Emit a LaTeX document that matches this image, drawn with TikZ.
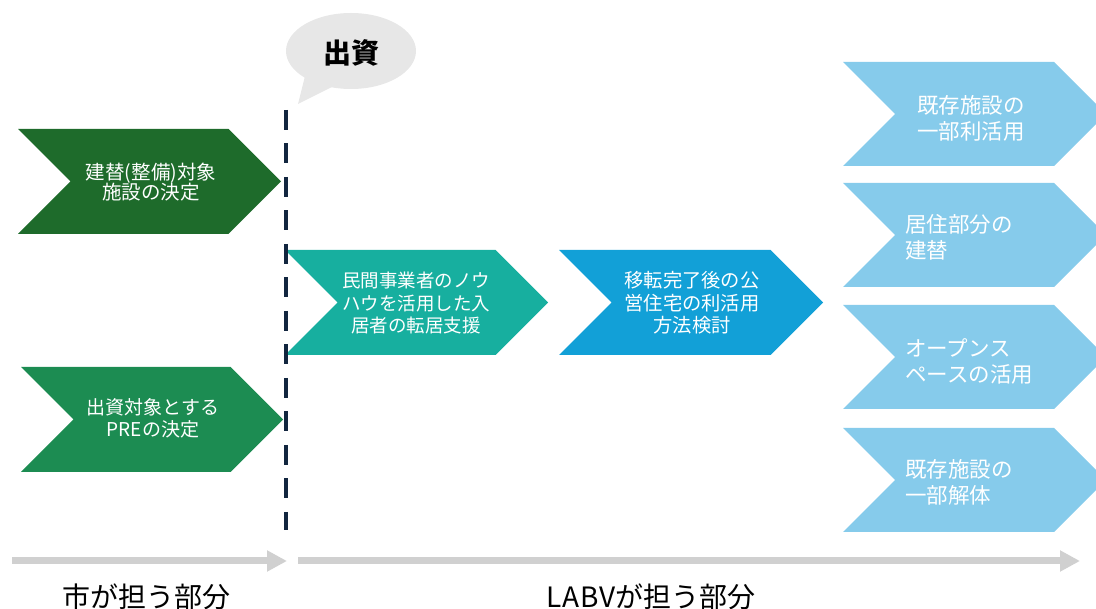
\documentclass[tikz,border=0pt]{standalone}
\usepackage{fontspec}
\setmainfont{Noto Sans CJK JP}
\usetikzlibrary{arrows.meta}
\definecolor{cdarkgreen}{HTML}{1E6B2B}
\definecolor{cgreen}{HTML}{1C8C52}
\definecolor{cteal}{HTML}{17AF9F}
\definecolor{cblue}{HTML}{12A0D7}
\definecolor{clightblue}{HTML}{86CBEB}
\definecolor{cbubble}{HTML}{E7E7E7}
\definecolor{cnavy}{HTML}{12263F}
\definecolor{carrow}{HTML}{D0D0D0}
\newcommand\mychev[5]{%
  \fill[#1] (#2,#3) -- ++({#4-#5/2},0) -- ++({#5/2},{#5/2}) -- ++({-#5/2},{#5/2})
    -- ++({-(#4-#5/2)},0) -- ++({#5/2},{-#5/2}) -- cycle;}
\tikzset{
  chevtext/.style={text=white, align=center, inner sep=0pt, font=\fontsize{18.5}{22.5}\selectfont},
  sidetext/.style={text=white, align=left, anchor=west, inner sep=0pt, font=\fontsize{21.5}{26}\selectfont},
  grayarrow/.style={draw=carrow, line width=7pt, -{Triangle[length=20pt,width=20pt]}},
  divider/.style={draw=cnavy, line width=3.5pt, dash pattern=on 20pt off 13.5pt},
  bottomlabel/.style={text=black, inner sep=0pt, font=\fontsize{28}{32}\selectfont}
}
\begin{document}
\begin{tikzpicture}[x=1pt,y=-1pt]
\useasboundingbox (0,0) rectangle (1096,609);
\clip (0,0) rectangle (1096,609);
% chevrons
\mychev{cdarkgreen}{18}{129}{263}{105}
\mychev{cgreen}{21}{367}{262}{105}
\mychev{cteal}{285}{250}{263}{105}
\mychev{cblue}{559}{250}{264}{105}
\mychev{clightblue}{843}{62}{263}{104}
\mychev{clightblue}{843}{183}{263}{104}
\mychev{clightblue}{843}{305}{263}{104}
\mychev{clightblue}{843}{428}{263}{104}
% texts
\node[chevtext, font=\fontsize{19.5}{20.5}\selectfont] (t1) at (151,182) {建替(整備)対象\\施設の決定};
\node[chevtext, font=\fontsize{19}{22}\selectfont] (t2) at (153,418) {出資対象とする\\PREの決定};
\node[chevtext] (t3) at (416,303) {民間事業者のノウ\\ハウを活用した入\\居者の転居支援};
\node[chevtext, font=\fontsize{19.3}{22.5}\selectfont] (t4) at (692,303) {移転完了後の公\\営住宅の利活用\\方法検討};
\node[sidetext] (s1) at (917,118) {既存施設の\\一部利活用};
\node[sidetext] (s2) at (905,237.5) {居住部分の\\建替};
\node[sidetext] (s3) at (905,361) {オープンス\\ペースの活用};
\node[sidetext] (s4) at (905,482.5) {既存施設の\\一部解体};
% bubble
\fill[cbubble] (351,51) ellipse [x radius=65, y radius=38];
\fill[cbubble] (305,76) -- (298,104) -- (334,86) -- cycle;
\node[inner sep=0pt, font=\fontsize{28}{32}\selectfont\bfseries] (bub) at (351,53) {出資};
% divider
\coordinate (d1) at (286,110);
\coordinate (d2) at (286,530);
\draw[divider] (d1) -- (d2);
% bottom arrows
\coordinate (a1s) at (12,561);
\coordinate (a1e) at (287,561);
\coordinate (a2s) at (298,561);
\coordinate (a2e) at (1080,561);
\draw[grayarrow] (a1s) -- (a1e);
\draw[grayarrow] (a2s) -- (a2e);
\node[bottomlabel] (lab1) at (146.5,597) {市が担う部分};
\node[bottomlabel] (lab2) at (651,597) {\addfontfeature{LetterSpace=3}LABV\addfontfeature{LetterSpace=0}が担う部分};
\end{tikzpicture}
\end{document}
